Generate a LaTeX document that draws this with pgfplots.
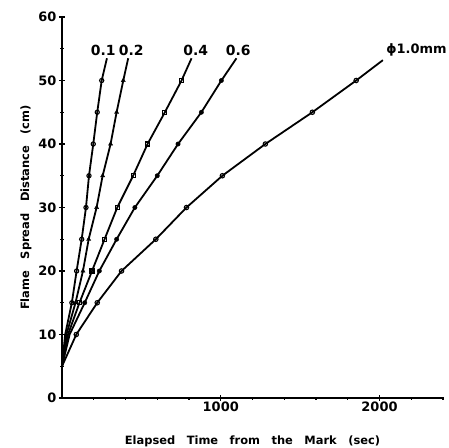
\documentclass[border=0pt]{standalone}
\usepackage{fontspec}
\setmainfont{DejaVu Sans}
\usepackage{pgfplots}
\pgfplotsset{compat=1.18}
\begin{document}
\begin{tikzpicture}
\path[use as bounding box] (-62bp,-50bp) rectangle (387bp,398bp);
\begin{axis}[
  scale only axis, width=381bp, height=381bp,
  xmin=0, xmax=2400, ymin=0, ymax=60,
  axis x line=bottom, axis y line=left, axis line style={-, line width=1.8bp},
  xtick={1000,2000}, minor xtick={200,400,600,800,1200,1400,1600,1800,2200,2400},
  ytick={0,10,...,60}, minor ytick={5,15,...,55},
  tick align=center, major tick length=6bp, minor tick length=3bp,
  tick style={line width=1.3bp, black},
  /pgf/number format/assume math mode=true,
  /pgf/number format/1000 sep={},
  tick label style={font=\fontsize{13}{15}\selectfont\bfseries},
  xticklabel style={yshift=3bp},
  yticklabel style={xshift=1bp},
  xlabel={Elapsed\quad Time\quad from\quad the\quad Mark\quad (sec)},
  ylabel={Flame\quad Spread\quad Distance\quad (cm)},
  label style={font=\fontsize{11.5}{13}\selectfont\bfseries},
  xlabel style={yshift=-18bp},
  ylabel style={yshift=0bp},
  clip=false,
]
% 0.1 mm
\addplot[black, line width=1.8bp] coordinates {(0,5)(20,10)(62,15)(92,20)(124,25)(151,30)(170,35)(197,40)(222,45)(250,50)(283,53.5)};
\addplot[only marks, mark=o, mark size=2.1bp, mark options={fill=white, line width=1.1bp}] coordinates {(62,15)(92,20)(124,25)(151,30)(170,35)(197,40)(222,45)(250,50)};
% 0.2 mm
\addplot[black, line width=1.8bp] coordinates {(0,5)(28,10)(85,15)(132,20)(168,25)(218,30)(256,35)(306,40)(344,45)(386,50)(417,53.5)};
\addplot[only marks, mark=triangle*, mark size=2.4bp, mark options={fill=black}] coordinates {(85,15)(132,20)(168,25)(218,30)(256,35)(306,40)(344,45)(386,50)};
% 0.4 mm
\addplot[black, line width=1.8bp] coordinates {(0,5)(38,10)(110,15)(189,20)(268,25)(348,30)(448,35)(539,40)(648,45)(753,50)(816,53.5)};
\addplot[only marks, mark=square, mark size=2.0bp, mark options={fill=white, line width=1.1bp}] coordinates {(110,15)(189,20)(268,25)(348,30)(448,35)(539,40)(648,45)(753,50)};
% 0.6 mm
\addplot[black, line width=1.8bp] coordinates {(0,5)(48,10)(143,15)(235,20)(344,25)(459,30)(600,35)(731,40)(878,45)(1004,50)(1099,53.5)};
\addplot[only marks, mark=*, mark size=2.2bp, mark options={fill=black}] coordinates {(143,15)(235,20)(344,25)(459,30)(600,35)(731,40)(878,45)(1004,50)};
% 1.0 mm
\addplot[black, line width=1.8bp] coordinates {(0,5)(90,10)(222,15)(375,20)(591,25)(784,30)(1010,35)(1281,40)(1577,45)(1853,50)(2021,53.2)};
\addplot[only marks, mark=o, mark size=2.2bp, mark options={fill=white, line width=1.1bp}] coordinates {(90,10)(222,15)(375,20)(591,25)(784,30)(1010,35)(1281,40)(1577,45)(1853,50)};
% labels
\node[font=\fontsize{14}{16}\selectfont\bfseries] at (axis cs:260,54.8) {0.1};
\node[font=\fontsize{14}{16}\selectfont\bfseries] at (axis cs:436,54.8) {0.2};
\node[font=\fontsize{14}{16}\selectfont\bfseries] at (axis cs:843,54.8) {0.4};
\node[font=\fontsize{14}{16}\selectfont\bfseries] at (axis cs:1110,54.8) {0.6};
\node[font=\fontsize{13}{16}\selectfont\bfseries] at (axis cs:2233,54.8) {ϕ1.0mm};
\end{axis}
\end{tikzpicture}
\end{document}
